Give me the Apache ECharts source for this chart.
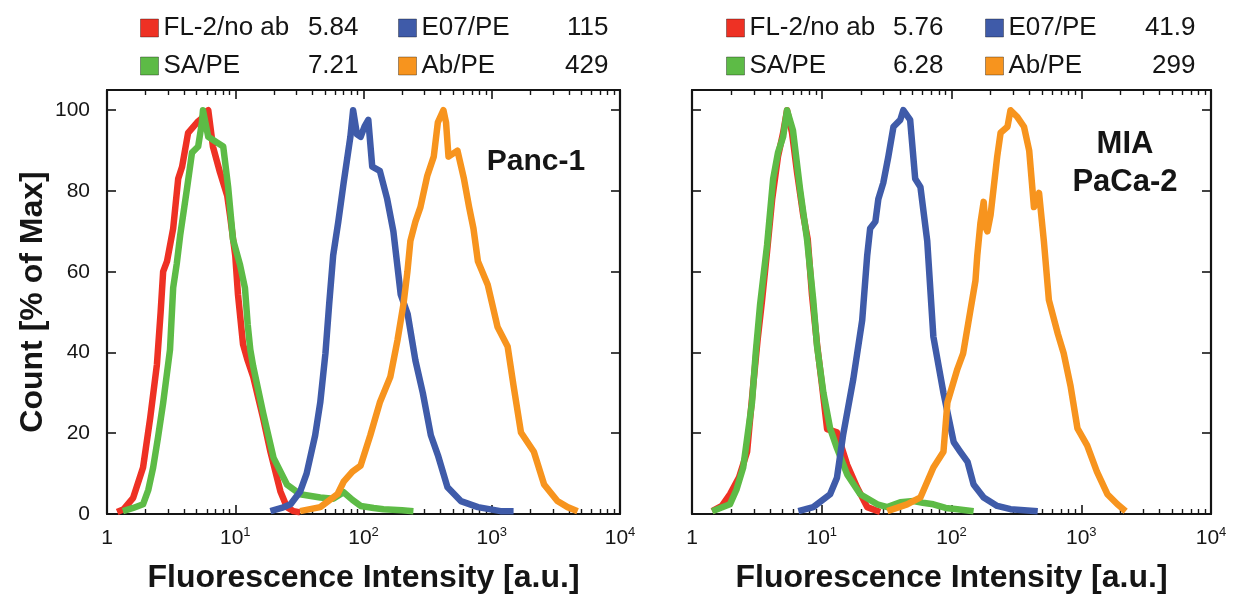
<!DOCTYPE html>
<html>
<head>
<meta charset="utf-8">
<title>Flow cytometry histograms</title>
<script src="https://cdn.jsdelivr.net/npm/echarts@6.0.0/dist/echarts.min.js"></script>
<style>
  html, body { margin: 0; padding: 0; background: #ffffff; }
  #chart { width: 1233px; height: 599px; }
</style>
</head>
<body>
<div id="chart"></div>
<script>
// Channel names, colours and panel labels
const channelNames = ['FL-2/no ab', 'SA/PE', 'E07/PE', 'Ab/PE'];
const channelColors = ['#EE3124', '#5DBB46', '#3F5BA9', '#F7941E'];
const panelLabels = ['Panc-1', 'MIA\nPaCa-2'];

// Median fluorescence intensity printed beside each legend entry
const mfiPanc1 = ['5.84', '7.21', '115', '429'];
const mfiMiaPaCa2 = ['5.76', '6.28', '41.9', '299'];

// Axis ticks
const xMajorTicks = [1, 10, 100, 1000, 10000];
const xMinorTicks = [2, 3, 4, 5, 6, 7, 8, 9,
  20, 30, 40, 50, 60, 70, 80, 90,
  200, 300, 400, 500, 600, 700, 800, 900,
  2000, 3000, 4000, 5000, 6000, 7000, 8000, 9000];
const yTicks = [0, 20, 40, 60, 80, 100];

// Histograms: [fluorescence intensity (a.u.), count (% of max)]
const panc1NoAb = [[1.2,0.5],[1.35,1.2],[1.6,4],[1.91,11.5],[2.17,23.7],[2.45,37],[2.62,50],[2.74,60],
  [2.94,62.6],[3.28,70.7],[3.59,83],[3.85,86],[4.29,94.4],[5.05,97],[5.5,98],[5.83,99.5],[6.16,100],
  [6.7,91],[7.6,84.6],[8.66,78.8],[9.1,74],[10,64],[10.5,54.4],[11.5,42],[12.5,38],[13.8,34],
  [16.5,23.7],[18.8,15.4],[22.5,5.6],[25.3,1.7],[28.5,0.7],[32,0.4]];
const panc1SA = [[1.33,0.7],[1.6,1.5],[1.91,2.4],[2.1,6],[2.29,11.5],[2.5,19],[2.74,27.5],[3.1,40.7],
  [3.28,56],[3.5,62],[3.72,69],[4.2,80.5],[4.6,89.5],[5.14,91],[5.5,97],[5.6,100],[6.16,93.4],
  [7.2,92],[8.06,91],[8.8,81],[9.6,68],[10.9,61.7],[11.9,56],[12.5,47],[13.1,40.7],[13.8,36.6],
  [16.5,25],[19.9,13.9],[25.3,7.3],[32,4.9],[46,4.1],[58,3.8],[70,5.4],[82,3.5],[95,2],[120,1.5],
  [143,1.2],[200,0.9],[245,0.7]];
const panc1E07 = [[18.8,0.7],[23,1.5],[27,2.4],[32,5.5],[36,10],[42,19.5],[46,27.6],[50.5,39.8],
  [54,52],[58,64],[63.6,72.4],[70,82],[79,93.4],[83,100],[89,94],[95,93.4],[102,96],[109,97.6],
  [117,86],[134,85],[153,78],[171,70],[195,54.4],[221,49.5],[254,38],[290,30],[335,19.5],
  [380,14.6],[452,6.6],[574,3.2],[780,1.7],[1170,0.7],[1480,0.7]];
const panc1Ab = [[32,0.7],[46,1.7],[62.7,4.9],[70,8],[82,10.5],[95,12],[113,19.5],[134,27.6],
  [162,34],[184,43],[205,52],[220,60],[232,67.6],[254,72.4],[278,76],[314,83.7],[353,88.5],
  [380,97],[420,100],[440,97],[460,88.5],[540,90],[607,83],[666,76],[720,70.7],[780,62.6],
  [930,56.8],[1110,46.3],[1330,41.5],[1480,31.7],[1690,20.2],[2130,15.4],[2560,7.3],[3250,3.2],
  [3900,1.7],[4670,0.7]];

const miaNoAb = [[1.43,0.7],[1.7,2],[1.96,4.9],[2.3,9],[2.66,15.4],[2.96,31.7],[3.2,43],[3.47,53],
  [3.79,65],[4.15,78],[4.6,88.5],[5.04,94.4],[5.4,100],[5.9,94.4],[6.45,84.6],[7.2,74],[7.8,68],
  [8.4,54.4],[9.2,42],[10,32.4],[11,21],[13.1,20.2],[15.7,12.2],[18.7,6.6],[22.4,1.7],[28.2,0.5]];
const miaSA = [[1.43,0.7],[1.96,2.4],[2.2,6],[2.48,11.5],[2.9,27.6],[3.1,40],[3.35,52],[3.79,66.6],
  [4.22,83],[4.6,89.5],[5.04,93.4],[5.4,100],[6.0,95],[6.8,80.5],[7.7,68],[8.6,53],[9.2,41.5],
  [10.3,30],[11.6,21.2],[13.1,16.3],[15.7,9.8],[19.8,4.9],[26.8,2.4],[32,1.7],[40.3,2.9],[51,3.2],
  [60,2.8],[72.5,2.4],[90,1.5],[111,1.2],[148,0.7]];
const miaE07 = [[6.6,0.7],[8.6,1.7],[11.6,4.9],[13.1,9],[14.6,19.5],[17.5,33.4],[20.5,48],[22.4,64],
  [23.6,70.7],[25.9,72.4],[27.3,78],[29.8,82],[32.6,88.5],[35.7,95.9],[40.3,97.6],[42.5,100],
  [48,97.6],[52.5,83],[57.6,81],[65,67.6],[72.5,43.9],[86.7,30],[104,17.8],[117,15.4],[133,12.9],
  [148,7.3],[177,4.1],[225,2],[285,1.2],[462,0.7]];
const miaAb = [[32,0.7],[45.5,2.4],[57.6,4.1],[72.5,11.5],[86.7,15.4],[93,27.6],[111,35.9],[123,39.8],
  [140,50.5],[153,57.8],[158,64],[167,72],[177,77.3],[183,71],[189,70],[200,74],[225,88.5],
  [239,94.4],[270,95.9],[285,100],[322,98.3],[362,95.9],[397,90],[432,76],[473,79.5],[515,67.6],
  [563,53],[660,44.6],[732,39.8],[827,31.7],[935,21.2],[1110,17],[1320,10.5],[1590,4.9],
  [1900,2.4],[2200,0.7]];

const panels = [
  { histograms: [panc1NoAb, panc1SA, panc1E07, panc1Ab], mfi: mfiPanc1 },
  { histograms: [miaNoAb, miaSA, miaE07, miaAb], mfi: mfiMiaPaCa2 }
];

const FONT = "'Liberation Sans', Arial, Helvetica, sans-serif";
const INK = '#151515';

const grids = [
  { left: 107, top: 90, width: 513, height: 430 },
  { left: 692, top: 90, width: 519, height: 430 }
];

const axisLine = { show: true, onZero: false, lineStyle: { color: INK, width: 2.2 } };

function decadeLabel(v) {
  const p = Math.round(Math.log10(v));
  return p === 0 ? '{b|1}' : '{b|10}{s|' + p + '}';
}

const xAxes = [];
const yAxes = [];
grids.forEach((g, gi) => {
  const mainX = {
    type: 'log', logBase: 10, min: xMajorTicks[0], max: xMajorTicks[xMajorTicks.length - 1],
    gridIndex: gi, axisLine: axisLine, splitLine: { show: false },
    axisTick: { show: true, inside: true, length: 9, lineStyle: { color: INK, width: 1.6 } }
  };
  // bottom axis: decade labels and axis title
  xAxes.push(Object.assign({}, mainX, {
    position: 'bottom',
    axisLabel: {
      show: true, margin: 12, formatter: decadeLabel, color: INK,
      rich: {
        b: { fontFamily: FONT, fontSize: 21, lineHeight: 24, color: INK },
        s: { fontFamily: FONT, fontSize: 13, lineHeight: 13, verticalAlign: 'top', color: INK }
      }
    },
    name: 'Fluorescence Intensity [a.u.]', nameLocation: 'middle', nameGap: 48,
    nameTextStyle: { fontFamily: FONT, fontSize: 32, fontWeight: 'bold', color: INK }
  }));
  // top frame edge
  xAxes.push(Object.assign({}, mainX, { position: 'top', axisLabel: { show: false } }));
  // minor ticks (2..9 within every decade), bottom and top
  ['bottom', 'top'].forEach(pos => {
    xAxes.push({
      type: 'value', min: 0, max: 4, gridIndex: gi, position: pos,
      axisLine: { show: false, onZero: false }, axisLabel: { show: false }, splitLine: { show: false },
      axisTick: { show: true, inside: true, length: 5, customValues: xMinorTicks.map(v => Math.log10(v)),
                  lineStyle: { color: INK, width: 1.4 } }
    });
  });

  const mainY = {
    type: 'value', min: 0, max: 105, gridIndex: gi, axisLine: axisLine, splitLine: { show: false },
    axisTick: { show: true, inside: true, length: 9, customValues: yTicks, lineStyle: { color: INK, width: 1.6 } }
  };
  yAxes.push(Object.assign({}, mainY, {
    position: 'left',
    axisLabel: gi === 0
      ? { show: true, customValues: yTicks, margin: 17, fontFamily: FONT, fontSize: 21, color: INK }
      : { show: false },
    name: gi === 0 ? 'Count [% of Max]' : '', nameLocation: 'middle', nameGap: 58,
    nameTextStyle: { fontFamily: FONT, fontSize: 32, fontWeight: 'bold', color: INK }
  }));
  yAxes.push(Object.assign({}, mainY, { position: 'right', axisLabel: { show: false } }));
});

const series = [];
panels.forEach((p, pi) => {
  p.histograms.forEach((data, ci) => {
    series.push({
      type: 'line', name: channelNames[ci], data: data,
      xAxisIndex: pi * 4, yAxisIndex: pi * 2,
      showSymbol: false, symbol: 'none', smooth: false,
      color: channelColors[ci],
      lineStyle: { color: channelColors[ci], width: 6.5, join: 'round' },
      itemStyle: { color: channelColors[ci] },
      emphasis: { disabled: true }
    });
  });
});

// Legend columns: [channel indices, left edge, name-box width]
const legendColumns = [
  { panel: 0, channels: [0, 1], left: 135, nameWidth: 135 },
  { panel: 0, channels: [2, 3], left: 393, nameWidth: 127 },
  { panel: 1, channels: [0, 1], left: 721, nameWidth: 134 },
  { panel: 1, channels: [2, 3], left: 980, nameWidth: 127 }
];
const legends = legendColumns.map(col => ({
  data: col.channels.map(ci => channelNames[ci]),
  orient: 'vertical', left: col.left, top: 10,
  icon: 'rect', itemWidth: 18, itemHeight: 18, itemGap: 12,
  selectedMode: false,
  itemStyle: { borderColor: 'rgba(0,0,0,0.35)', borderWidth: 1 },
  formatter: name => '{n|' + name + '}{v|' + panels[col.panel].mfi[channelNames.indexOf(name)] + '}',
  textStyle: {
    color: INK,
    rich: {
      n: { width: col.nameWidth, fontFamily: FONT, fontSize: 26, lineHeight: 26, color: INK },
      v: { width: 60, align: 'right', fontFamily: FONT, fontSize: 26, lineHeight: 26, color: INK }
    }
  }
}));

const option = {
  animation: false,
  backgroundColor: '#ffffff',
  grid: grids,
  xAxis: xAxes,
  yAxis: yAxes,
  legend: legends,
  series: series,
  graphic: [
    { type: 'text', x: 536, y: 162, silent: true,
      style: { text: panelLabels[0], fontFamily: FONT, fontSize: 30, fontWeight: 'bold', fill: INK,
               align: 'center', verticalAlign: 'middle' } },
    { type: 'text', x: 1125, y: 125, silent: true,
      style: { text: panelLabels[1], fontFamily: FONT, fontSize: 31, fontWeight: 'bold', fill: INK,
               lineHeight: 38, align: 'center', verticalAlign: 'top' } }
  ]
};

const chart = echarts.init(document.getElementById('chart'), null, { renderer: 'canvas' });
chart.setOption(option);
</script>
</body>
</html>
